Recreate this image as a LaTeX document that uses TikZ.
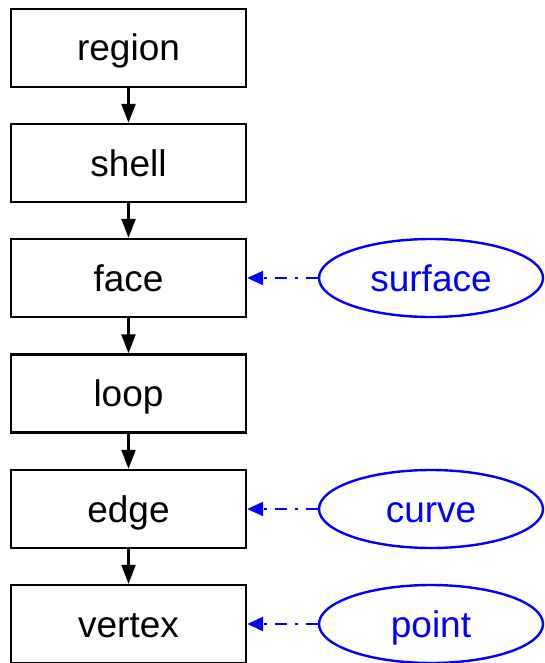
\documentclass[tikz,border=0pt]{standalone}
\usepackage{fontspec}
\setmainfont{Liberation Sans}
\usetikzlibrary{shapes.geometric,arrows.meta}
\definecolor{linkblue}{RGB}{0,0,255}
\begin{document}
\begin{tikzpicture}[x=1pt,y=-1pt,
  label text/.style={font=\fontsize{37}{44}\selectfont,text height=26pt,text depth=0pt},
  entity/.style={label text,draw=black,line width=2.4pt,fill=white,minimum width=235pt,minimum height=78pt,
    inner sep=0pt},
  geom/.style={label text,ellipse,draw=linkblue,line width=2.4pt,text=linkblue,minimum width=224pt,minimum height=78pt,
    inner sep=0pt},
  down/.style={line width=2.4pt,-{Triangle[length=19pt,width=14pt]}},
  ref/.style={draw=linkblue,line width=2.4pt,dash pattern=on 12pt off 8pt on 3pt off 8pt,
    -{Triangle[length=16pt,width=14pt]}},
]
\useasboundingbox (0,0) rectangle (544,663);
% topological entities
\node[entity] (region) at (128.5,48) {region};
\node[entity] (shell)  at (128.5,163) {shell};
\node[entity] (face)   at (128.5,278) {face};
\node[entity] (loop)   at (128.5,393.5) {loop};
\node[entity] (edge)   at (128.5,509) {edge};
\node[entity] (vertex) at (128.5,624) {vertex};
% geometry attached to entities
\node[geom] (surface) at (431,278) {surface};
\node[geom] (curve)   at (431,509) {curve};
\node[geom] (point)   at (431,624) {point};
% hierarchy
\draw[down] (region) -- (shell);
\draw[down] (shell) -- (face);
\draw[down] (face) -- (loop);
\draw[down] (loop) -- (edge);
\draw[down] (edge) -- (vertex);
% geometric references
\draw[ref] (surface) -- (face);
\draw[ref] (curve) -- (edge);
\draw[ref] (point) -- (vertex);
\end{tikzpicture}
\end{document}
